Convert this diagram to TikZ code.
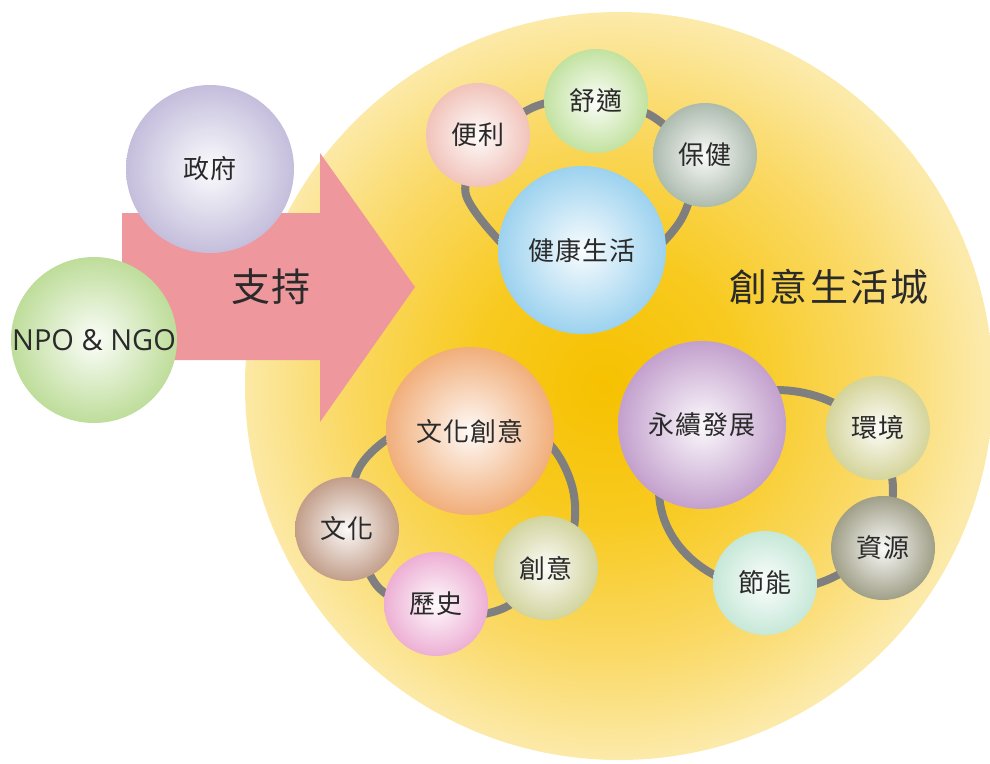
\documentclass[tikz,border=0pt]{standalone}
\usepackage{fontspec}
\newfontfamily\cjk[LetterSpace=3]{Noto Sans CJK TC}
\newfontfamily\cjkw[LetterSpace=6]{Noto Sans CJK TC}
\newfontfamily\latinf{Open Sans}
\definecolor{sunA}{HTML}{F6C100}
\definecolor{sunB}{HTML}{F8CA20}
\definecolor{sunC}{HTML}{FAD966}
\definecolor{sunD}{HTML}{FCEAAA}
\definecolor{arrowpink}{HTML}{EE979D}
\definecolor{ringgray}{HTML}{7F7F7F}
\definecolor{txt}{HTML}{2A2A2A}
\definecolor{cGov}{HTML}{C4BEDC}
\definecolor{cNgo}{HTML}{BEDD9A}
\definecolor{cBian}{HTML}{F1C3BA}
\definecolor{cShu}{HTML}{C2E2A0}
\definecolor{cBao}{HTML}{ADBBAE}
\definecolor{cJian}{HTML}{9CD2EF}
\definecolor{cWenC}{HTML}{F1AE7A}
\definecolor{cWen}{HTML}{C29E8A}
\definecolor{cLi}{HTML}{EDAFD4}
\definecolor{cChuang}{HTML}{D2D49E}
\definecolor{cYong}{HTML}{C3A0CD}
\definecolor{cHuan}{HTML}{D4D49A}
\definecolor{cZi}{HTML}{A09F88}
\definecolor{cJie}{HTML}{C6E8D8}
\pgfdeclareradialshading{sun}{\pgfpoint{-1bp}{0bp}}{color(0bp)=(sunA); color(9bp)=(sunB); color(18bp)=(sunC); color(25bp)=(sunD); color(50bp)=(sunD)}
\tikzset{
  sph/.style={circle, inner sep=0pt, shading=radial, inner color=#1!6!white, outer color=#1, text=txt, font=\cjk\fontsize{26}{26}\selectfont},
  smallball/.style={minimum size=104pt},
  bigball/.style={minimum size=168pt},
  ring/.style={draw=ringgray, line width=8pt},
}
\begin{document}
\begin{tikzpicture}[x=1pt,y=-1pt]
\useasboundingbox (0,0) rectangle (990,763);
% big background circle
\node[circle, inner sep=0pt, minimum size=748pt, shading=sun] (city) at (619,386) {};
% arrow
\fill[arrowpink] (122,213) -- (320,213) -- (320,153) -- (415,287) -- (320,422) -- (320,360) -- (122,360) -- cycle;
\node[text=txt, font=\cjk\fontsize{39}{39}\selectfont] (support) at (271,287) {支持};
\node[text=txt, font=\cjkw\fontsize{38}{38}\selectfont] (citylabel) at (829,287) {創意生活城};
% rings
\draw[ring] plot[smooth cycle] coordinates {(466,195) (488,142) (534,107) (596,97) (655,118) (694,162) (682,218) (640,262) (582,282) (522,262)};
\draw[ring] plot[smooth cycle] coordinates {(352,520) (358,470) (392,436) (466,402) (545,440) (573,490) (568,545) (508,606) (440,616) (378,587)};
\draw[ring] (776,490) ellipse [x radius=117, y radius=100];
% left spheres
\node[sph=cGov, minimum size=168pt] (gov) at (210,169) {政府};
\node[sph=cNgo, minimum size=166pt, font=\latinf\fontsize{29}{29}\selectfont] (ngo) at (94,340) {NPO \& NGO};
% top cluster
\node[sph=cBian, smallball] (bianli) at (478,135) {便利};
\node[sph=cShu, smallball] (shushi) at (596,101) {舒適};
\node[sph=cBao, smallball] (baojian) at (705,155) {保健};
\node[sph=cJian, bigball] (jiankang) at (582,250) {健康生活};
% bottom-left cluster
\node[sph=cWenC, bigball] (wenchuang) at (470,431) {文化創意};
\node[sph=cWen, smallball] (wenhua) at (347,529) {文化};
\node[sph=cLi, smallball] (lishi) at (436,604) {歷史};
\node[sph=cChuang, smallball] (chuangyi) at (546,568) {創意};
% bottom-right cluster
\node[sph=cYong, bigball] (yongxu) at (702,425) {永續發展};
\node[sph=cHuan, smallball] (huanjing) at (878,428) {環境};
\node[sph=cZi, smallball] (ziyuan) at (883,548) {資源};
\node[sph=cJie, smallball] (jieneng) at (765,583) {節能};
\end{tikzpicture}
\end{document}
